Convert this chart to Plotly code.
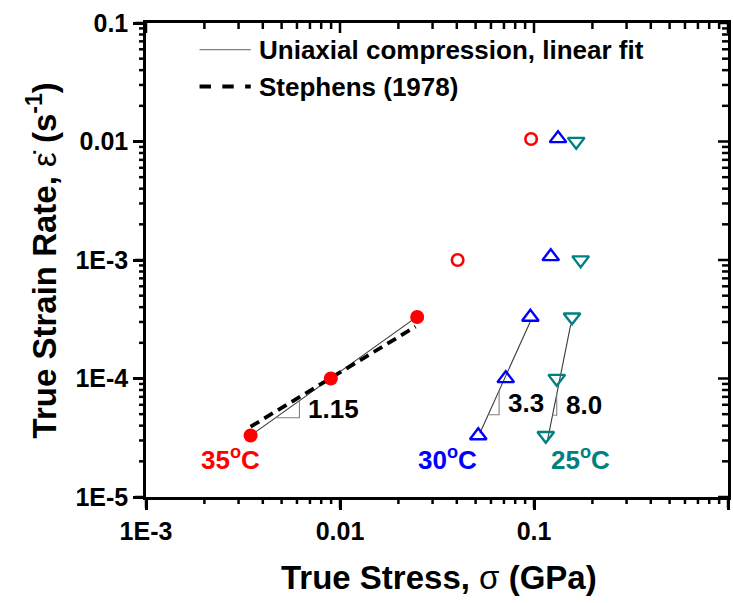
import numpy as np
import plotly.graph_objects as go

# ---- measured data (stress in GPa, strain rate in 1/s) ----
sigma_35 = [0.00346, 0.00897, 0.0250]
rate_35 = [3.3e-5, 1.0e-4, 3.3e-4]
sigma_35_high = [0.0404, 0.0966]
rate_35_high = [1.0e-3, 1.05e-2]
sigma_30 = [0.0516, 0.0715, 0.0958, 0.122, 0.133]
rate_30 = [3.3e-5, 1.0e-4, 3.3e-4, 1.07e-3, 1.06e-2]
sigma_25 = [0.115, 0.131, 0.157, 0.174, 0.165]
rate_25 = [3.3e-5, 1.0e-4, 3.3e-4, 1.0e-3, 1.0e-2]

# ---- power-law fits (end points of each fitted segment) ----
fit_35_sigma = [0.00346, 0.0250]
fit_35_rate = [3.3e-5, 3.33e-4]
fit_30_sigma = [0.0526, 0.0955]
fit_30_rate = [3.45e-5, 3.0e-4]
fit_25_sigma = [0.1175, 0.1545]
fit_25_rate = [3.03e-5, 2.83e-4]
stephens_sigma = [0.00346, 0.0245]
stephens_rate = [3.92e-5, 2.74e-4]

# ---- slope markers: exponent text and stress span of the horizontal leg ----
slope_text = ["1.15", "3.3", "8.0"]
slope_leg_sigma = [[0.00465, 0.00618], [0.0581, 0.0661], [0.1246, 0.131]]

# ---- temperature labels ----
temp_text = ["35", "30", "25"]
temp_sigma = [0.00272, 0.0360, 0.174]
temp_rate = 2.1e-5

# ---- tick labels ----
x_tickvals = [1e-3, 1e-2, 1e-1, 1]
x_ticktext = ["1E-3", "0.01", "0.1", "1"]
y_tickvals = [1e-5, 1e-4, 1e-3, 1e-2, 1e-1]
y_ticktext = ["1E-5", "1E-4", "1E-3", "0.01", "0.1"]

RED, BLUE, TEAL = "#FF0000", "#0000FF", "#008080"
FONT = "Liberation Sans, Arial, Helvetica, sans-serif"
FIT_COLOR = "#3a3a3a"
LEG_COLOR = "#808080"

W, H = 733, 603
MARGIN = dict(l=146, r=2, t=23, b=106)
PLOT_W = W - MARGIN["l"] - MARGIN["r"]
PLOT_H = H - MARGIN["t"] - MARGIN["b"]
xr, yr = [-3, 0], [-5, -1]


def on_line(xs, ys, x):
    lx, ly = np.log10(xs), np.log10(ys)
    t = (np.log10(x) - lx[0]) / (lx[1] - lx[0])
    return 10 ** (ly[0] + t * (ly[1] - ly[0]))


fig = go.Figure()

# fitted lines
fits = [(fit_35_sigma, fit_35_rate), (fit_30_sigma, fit_30_rate), (fit_25_sigma, fit_25_rate)]
for xs, ys in fits:
    fig.add_trace(go.Scatter(x=xs, y=ys, mode="lines", line=dict(color=FIT_COLOR, width=1.1)))

fig.add_trace(go.Scatter(x=stephens_sigma, y=stephens_rate, mode="lines",
                         line=dict(color="black", width=3.8, dash="10px,6px")))

# slope triangles, legs built on each fitted line
slope_ann = []
for (xs, ys), (xa, xb), txt in zip(fits, slope_leg_sigma, slope_text):
    ya, yb = on_line(xs, ys, xa), on_line(xs, ys, xb)
    fig.add_trace(go.Scatter(x=[xa, xb, xb], y=[ya, ya, yb], mode="lines",
                             line=dict(color=LEG_COLOR, width=1.1)))
    slope_ann.append(dict(x=float(np.log10(xb)), y=float(np.log10(np.sqrt(ya * yb))),
                          text="<b>%s</b>" % txt, showarrow=False, xanchor="left",
                          yanchor="middle", xshift=7,
                          font=dict(family=FONT, size=26, color="black")))

# data points
fig.add_trace(go.Scatter(x=sigma_35, y=rate_35, mode="markers",
                         marker=dict(symbol="circle", size=14, color=RED)))
fig.add_trace(go.Scatter(x=sigma_35_high, y=rate_35_high, mode="markers",
                         marker=dict(symbol="circle-open", size=11.5, color=RED, line=dict(width=2.6))))
fig.add_trace(go.Scatter(x=sigma_30, y=rate_30, mode="markers",
                         marker=dict(symbol="triangle-up-open", size=14.5, color=BLUE, line=dict(width=2.4))))
fig.add_trace(go.Scatter(x=sigma_25, y=rate_25, mode="markers",
                         marker=dict(symbol="triangle-down-open", size=14.5, color=TEAL, line=dict(width=2.4))))

temp_ann = [dict(x=float(np.log10(sx)), y=float(np.log10(temp_rate)),
                 text="<b>%s<sup>o</sup>C</b>" % txt, showarrow=False,
                 xanchor="center", yanchor="middle", font=dict(family=FONT, size=26, color=col))
            for txt, sx, col in zip(temp_text, temp_sigma, [RED, BLUE, TEAL])]

# legend drawn inside the frame
legend_rows = [("Uniaxial compression, linear fit", dict(color=LEG_COLOR, width=1.2)),
               ("Stephens (1978)", dict(color="black", width=3.8, dash="dash"))]
leg_y = [0.944, 0.866]
legend_shapes, legend_ann = [], []
for (label, ln), yy in zip(legend_rows, leg_y):
    legend_shapes.append(dict(type="line", xref="paper", yref="paper",
                              x0=0.092, x1=0.180, y0=yy, y1=yy, line=ln))
    legend_ann.append(dict(xref="paper", yref="paper", x=0.191, y=yy, text="<b>%s</b>" % label,
                           showarrow=False, xanchor="left", yanchor="middle",
                           font=dict(family=FONT, size=26, color="black")))

# axis titles
title_ann = [
    dict(xref="paper", yref="paper", x=0.503, y=-0.169, showarrow=False,
         text="<b>True Stress, </b>σ<b> (GPa)</b>", xanchor="center", yanchor="middle",
         font=dict(family=FONT, size=33, color="black")),
    dict(xref="paper", yref="paper", x=-0.178, y=0.5, showarrow=False, textangle=-90,
         text="<b>True Strain Rate, </b>\u03b5\u0307<b> (s<sup>-1</sup>)</b>",
         xanchor="center", yanchor="middle", font=dict(family=FONT, size=33, color="black")),
]


# tick marks on the frame: outward on bottom/left, inward on top/right
def frac_x(v):
    return (np.log10(v) - xr[0]) / (xr[1] - xr[0])


def frac_y(v):
    return (np.log10(v) - yr[0]) / (yr[1] - yr[0])


x_minor = [k * 10.0 ** e for e in range(xr[0], xr[1]) for k in range(2, 10)]
y_minor = [k * 10.0 ** e for e in range(yr[0], yr[1]) for k in range(2, 10)]
tick_line = dict(color="black", width=2.5)
tick_shapes = []
for vals, out_len, in_len in [(x_tickvals, 11, 10), (x_minor, 7, 6)]:
    for v in vals:
        fx = float(frac_x(v))
        tick_shapes.append(dict(type="line", xref="paper", yref="paper", x0=fx, x1=fx,
                                y0=0, y1=-out_len / PLOT_H, line=tick_line))
        tick_shapes.append(dict(type="line", xref="paper", yref="paper", x0=fx, x1=fx,
                                y0=1, y1=1 - in_len / PLOT_H, line=tick_line))
for vals, out_len, in_len in [(y_tickvals, 11, 10), (y_minor, 7, 6)]:
    for v in vals:
        fy = float(frac_y(v))
        tick_shapes.append(dict(type="line", xref="paper", yref="paper", y0=fy, y1=fy,
                                x0=0, x1=-out_len / PLOT_W, line=tick_line))
        tick_shapes.append(dict(type="line", xref="paper", yref="paper", y0=fy, y1=fy,
                                x0=1, x1=1 - in_len / PLOT_W, line=tick_line))

tickfont = dict(family=FONT, size=25, color="black")

fig.update_layout(
    width=W, height=H, showlegend=False,
    margin=MARGIN,
    paper_bgcolor="white", plot_bgcolor="white",
    annotations=slope_ann + temp_ann + legend_ann + title_ann,
    shapes=legend_shapes + tick_shapes,
    xaxis=dict(type="log", range=xr, showline=True, mirror=True, linecolor="black", linewidth=2.5,
               ticks="outside", ticklen=10, tickwidth=2.5, tickcolor="black",
               tickmode="array", tickvals=x_tickvals,
               ticktext=["<b>%s</b>" % t for t in x_ticktext], tickfont=tickfont,
               gridcolor="white", zeroline=False),
    yaxis=dict(type="log", range=yr, showline=True, mirror=True, linecolor="black", linewidth=2.5,
               ticks="outside", ticklen=10, tickwidth=2.5, tickcolor="black",
               tickmode="array", tickvals=y_tickvals,
               ticktext=["<b>%s</b>" % t for t in y_ticktext], tickfont=tickfont,
               gridcolor="white", zeroline=False),
)

fig.write_html("out.html")
